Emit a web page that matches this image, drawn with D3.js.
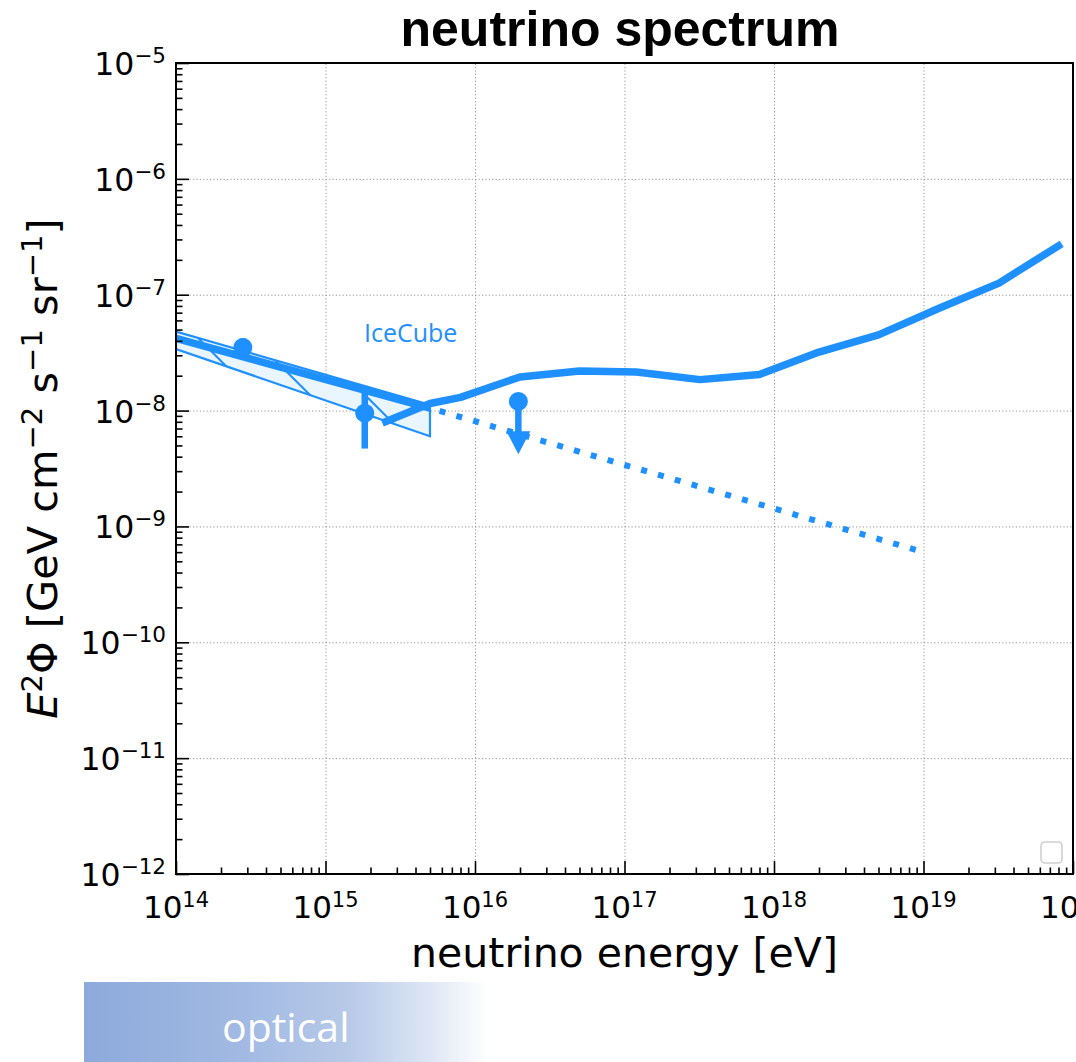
<!DOCTYPE html>
<html><head><meta charset="utf-8">
<script src="https://cdn.jsdelivr.net/npm/d3@7"></script>
<style>body{margin:0;background:#fff;overflow:hidden;} svg{display:block;}</style>
</head><body>
<svg id="chart" width="1076" height="1062"></svg>
<script>
// ---------------- data ----------------
const xDomain = [1e14, 1e20];
const yDomain = [1e-12, 1e-5];
const xTickExps = [14, 15, 16, 17, 18, 19, 20];
const yTickExps = [-5, -6, -7, -8, -9, -10, -11, -12];

// IceCube fit band (polygon) and best-fit line
const bandEnergy = [1e14, 5e15, 5e15, 1e14];
const bandFlux   = [4.8e-8, 1.12e-8, 6.0e-9, 3.4e-8];
const fitEnergy  = [1e14, 5e15];
const fitFlux    = [4.2e-8, 1.05e-8];
// dotted extrapolation
const extEnergy  = [5e15, 1e19];
const extFlux    = [1.05e-8, 6.0e-10];
// sensitivity curve
const sensEnergy = [2.4e15, 5e15, 8e15, 2e16, 5e16, 1.2e17, 3.2e17, 8e17, 2e18, 5e18, 1.26e19, 3.2e19, 8.4e19];
const sensFlux   = [7.8e-9, 1.15e-8, 1.3e-8, 1.95e-8, 2.2e-8, 2.15e-8, 1.85e-8, 2.05e-8, 3.2e-8, 4.5e-8, 7.6e-8, 1.26e-7, 2.75e-7];
// data points with error bars
const ptEnergy = [2.8e14, 1.83e15];
const ptFlux   = [3.5e-8, 9.5e-9];
const ptErrHi  = [4.2e-8, 1.6e-8];
const ptErrLo  = [2.9e-8, 4.7e-9];
// upper limit
const ulEnergy = [1.95e16];
const ulFlux   = [1.2e-8];
const ulTo     = [4.2e-9];

const titleText = "neutrino spectrum";
const xLabelText = "neutrino energy [eV]";
const bandLabel = "IceCube";
const bottomLabel = "optical";

// ---------------- layout ----------------
const L = 176, R = 1073, T = 63, B = 874;
const blue = "#1e90ff";
const svg = d3.select("#chart");

const x = d3.scaleLog().domain(xDomain).range([L, R]);
const y = d3.scaleLog().domain(yDomain).range([B, T]);

const defs = svg.append("defs");
defs.append("clipPath").attr("id", "clip").append("rect")
  .attr("x", L).attr("y", T).attr("width", R - L).attr("height", B - T);
const pat = defs.append("pattern").attr("id", "hatch")
  .attr("patternUnits", "userSpaceOnUse").attr("width", 55).attr("height", 55)
  .attr("patternTransform", "translate(0,30)");
pat.append("path").attr("d", "M-3,-3L58,58M-3,52L3,58M52,-3L58,3")
  .attr("stroke", blue).attr("stroke-width", 2).attr("fill", "none");
const grad = defs.append("linearGradient").attr("id", "optgrad")
  .attr("x1", "0%").attr("x2", "100%").attr("y1", "0%").attr("y2", "0%");
[["0%", "#8daadb"], ["40%", "#a2bae3"], ["65%", "#b7c9e8"], ["82%", "#d6e1f3"], ["100%", "#ffffff"]]
  .forEach(([o, c]) => grad.append("stop").attr("offset", o).attr("stop-color", c));

// ---------------- grid ----------------
const majorX = xTickExps.map(e => Math.pow(10, e));
const majorY = yTickExps.map(e => Math.pow(10, e));
const minorX = [], minorY = [];
for (let e = 14; e < 20; e++) for (let k = 2; k <= 9; k++) minorX.push(k * Math.pow(10, e));
for (let e = -12; e < -5; e++) for (let k = 2; k <= 9; k++) minorY.push(k * Math.pow(10, e));

const gridX = svg.append("g").attr("transform", `translate(0,${B})`)
  .call(d3.axisBottom(x).tickValues(majorX).tickSize(-(B - T)).tickFormat(""));
const gridY = svg.append("g").attr("transform", `translate(${L},0)`)
  .call(d3.axisLeft(y).tickValues(majorY).tickSize(-(R - L)).tickFormat(""));
[gridX, gridY].forEach(g => {
  g.select(".domain").remove();
  g.selectAll("line").attr("stroke", "#8a8a8a").attr("stroke-width", 0.9).attr("stroke-dasharray", "1.2,2.2");
});

// ---------------- data marks ----------------
const plot = svg.append("g").attr("clip-path", "url(#clip)");
const line = d3.line().x(d => x(d[0])).y(d => y(d[1]));
const band = d3.zip(bandEnergy, bandFlux);
plot.append("path").attr("d", line(band) + "Z").attr("fill", "#eaf6ff");
plot.append("path").attr("d", line(band) + "Z").attr("fill", "url(#hatch)")
  .attr("stroke", blue).attr("stroke-width", 2.2).attr("stroke-linejoin", "miter");
plot.append("path").attr("d", line(d3.zip(fitEnergy, fitFlux)))
  .attr("fill", "none").attr("stroke", blue).attr("stroke-width", 7.5);
plot.append("path").attr("d", line(d3.zip(extEnergy, extFlux)))
  .attr("fill", "none").attr("stroke", blue).attr("stroke-width", 6)
  .attr("stroke-dasharray", "6,11.5").attr("stroke-dashoffset", -10);
plot.append("path").attr("d", line(d3.zip(sensEnergy, sensFlux)))
  .attr("fill", "none").attr("stroke", blue).attr("stroke-width", 7.5)
  .attr("stroke-linejoin", "round");

// error bar points
ptEnergy.forEach((e, i) => {
  plot.append("line").attr("x1", x(e)).attr("x2", x(e))
    .attr("y1", y(ptErrHi[i])).attr("y2", y(ptErrLo[i]))
    .attr("stroke", blue).attr("stroke-width", 6.5);
  plot.append("circle").attr("cx", x(e)).attr("cy", y(ptFlux[i])).attr("r", 9.5).attr("fill", blue);
});
// upper limits
ulEnergy.forEach((e, i) => {
  const cx = x(e), cy = y(ulFlux[i]), ty = y(ulTo[i]);
  const head = 23, hw = 12;
  plot.append("line").attr("x1", cx).attr("x2", cx).attr("y1", cy).attr("y2", ty - head + 1)
    .attr("stroke", blue).attr("stroke-width", 6.5);
  plot.append("path").attr("d", `M${cx - hw},${ty - head}L${cx + hw},${ty - head}L${cx},${ty}Z`).attr("fill", blue);
  plot.append("circle").attr("cx", cx).attr("cy", cy).attr("r", 9.5).attr("fill", blue);
});

svg.append("text").attr("x", 364).attr("y", 342)
  .attr("font-family", "'Open Sans', sans-serif").attr("font-size", 25).attr("fill", blue)
  .text(bandLabel);

// ---------------- axes ticks ----------------
function tickAxis(axisGen, vals, size, tr) {
  const g = svg.append("g").attr("transform", tr)
    .call(axisGen.tickValues(vals).tickSize(-size).tickFormat(""));
  g.select(".domain").remove();
  g.selectAll("line").attr("stroke", "#000").attr("stroke-width", 1.6);
  return g;
}
tickAxis(d3.axisBottom(x), majorX, 13, `translate(0,${B})`);
tickAxis(d3.axisBottom(x), minorX, 6.5, `translate(0,${B})`);
tickAxis(d3.axisLeft(y), majorY, 13, `translate(${L},0)`);
tickAxis(d3.axisLeft(y), minorY, 6.5, `translate(${L},0)`);

// spines
svg.append("rect").attr("x", L).attr("y", T).attr("width", R - L).attr("height", B - T)
  .attr("fill", "none").attr("stroke", "#000").attr("stroke-width", 2);

// tick labels
const tf = "'DejaVu Sans', sans-serif";
xTickExps.forEach(e => {
  const t = svg.append("text").attr("x", x(Math.pow(10, e))).attr("y", 918)
    .attr("text-anchor", "middle").attr("font-family", tf).attr("font-size", 31).attr("fill", "#000");
  t.append("tspan").text("10");
  t.append("tspan").attr("font-size", 21).attr("dy", -11).text(String(e).replace("-", "\u2212"));
});
yTickExps.forEach(e => {
  const t = svg.append("text").attr("x", 166).attr("y", y(Math.pow(10, e)) + 12)
    .attr("text-anchor", "end").attr("font-family", tf).attr("font-size", 31.5).attr("fill", "#000");
  t.append("tspan").text("10");
  t.append("tspan").attr("font-size", 21.5).attr("dy", -12).text(String(e).replace("-", "\u2212"));
});

// axis labels
svg.append("text").attr("x", (L + R) / 2).attr("y", 967).attr("text-anchor", "middle")
  .attr("font-family", tf).attr("font-size", 41).attr("fill", "#000").text(xLabelText);

const yl = svg.append("text").attr("transform", `translate(57,${(T + B) / 2}) rotate(-90)`)
  .attr("text-anchor", "middle").attr("font-family", tf).attr("font-size", 41.5).attr("fill", "#000");
const ylParts = [["E", "it"], ["2", "sup"], ["\u03A6 [GeV cm", ""], ["\u22122", "sup"], [" s", ""], ["\u22121", "sup"], [" sr", ""], ["\u22121", "sup"], ["]", ""]];
let raised = false;
ylParts.forEach(([s, k]) => {
  const sp = yl.append("tspan").text(s);
  if (k === "it") sp.attr("font-style", "italic");
  if (k === "sup") { sp.attr("font-size", 29).attr("dy", raised ? 0 : -15); raised = true; }
  else if (raised) { sp.attr("dy", 15); raised = false; }
});

// title
svg.append("text").attr("x", 620).attr("y", 46).attr("text-anchor", "middle")
  .attr("font-family", "'Liberation Sans', Arial, sans-serif").attr("font-weight", "bold")
  .attr("font-size", 50).attr("fill", "#000").text(titleText);

// empty legend box
svg.append("rect").attr("x", R - 32).attr("y", B - 32).attr("width", 21).attr("height", 21)
  .attr("rx", 4).attr("fill", "#fff").attr("stroke", "#cfcfcf").attr("stroke-width", 1.6);

// bottom "optical" banner
svg.append("rect").attr("x", 84).attr("y", 982).attr("width", 404).attr("height", 80)
  .attr("fill", "url(#optgrad)");
svg.append("text").attr("x", 222).attr("y", 1042)
  .attr("font-family", "'Open Sans', sans-serif").attr("font-size", 41).attr("fill", "#fff")
  .text(bottomLabel);
</script>
</body></html>
